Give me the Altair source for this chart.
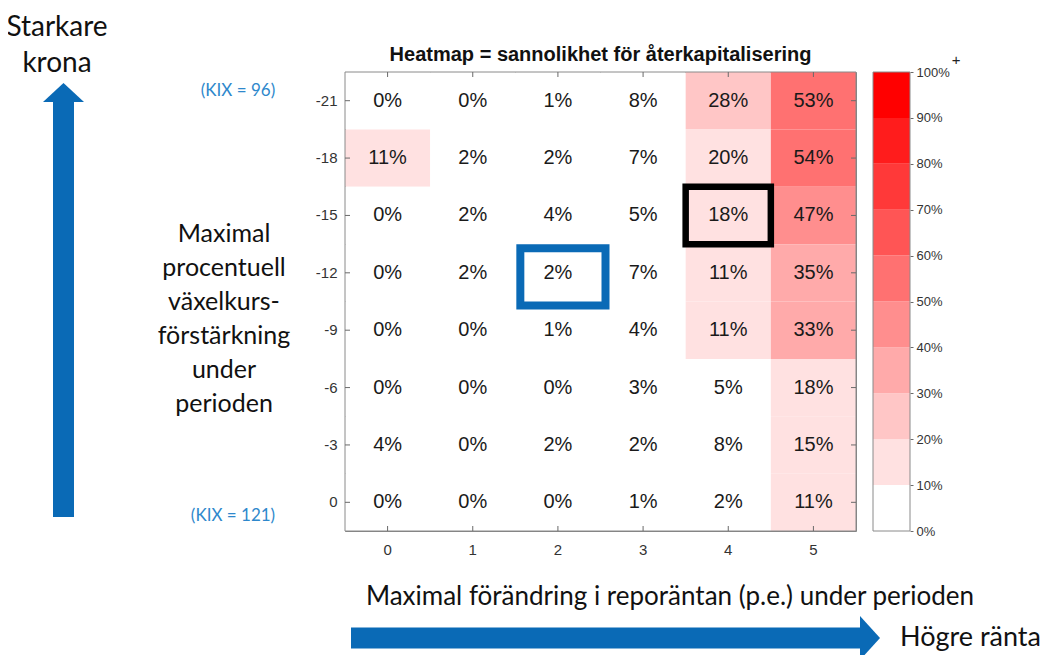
import altair as alt
import pandas as pd

# ---- data ----
cols = [0, 1, 2, 3, 4, 5]                      # max change in repo rate (p.e.)
rows = [-21, -18, -15, -12, -9, -6, -3, 0]     # max % krona appreciation
probs = [
    [0, 0, 1, 8, 28, 53],
    [11, 2, 2, 7, 19.6, 54],
    [0, 2, 4, 5, 18, 47],
    [0, 2, 2, 7, 11, 35],
    [0, 0, 1, 4, 11, 33],
    [0, 0, 0, 3, 5, 18],
    [4, 0, 2, 2, 8, 15],
    [0, 0, 0, 1, 2, 11],
]
bin_lo = [0, 10, 20, 30, 40, 50, 60, 70, 80, 90]
bin_hi = [10, 20, 30, 40, 50, 60, 70, 80, 90, 100]
bin_colors = ["#FFFFFF", "#FFE1E1", "#FFC6C6", "#FFAAAA", "#FF8E8E",
              "#FF7171", "#FF5555", "#FF3939", "#FF1C1C", "#FF0000"]
highlight_black = [(-15, 4)]
highlight_blue = [(-12, 2)]

df = pd.DataFrame([{"row": r, "col": c, "value": probs[i][j]}
                   for i, r in enumerate(rows) for j, c in enumerate(cols)])
cb = pd.DataFrame({"lo": bin_lo, "hi": bin_hi})
one = pd.DataFrame({"k": [0]})

W, H = 511, 459
BLUE = "#0A6AB6"
LBLUE = "#2E88CC"
FONT = "Liberation Sans"
AFONT = "Lato"
TK = "#6a6a6a"

xs = alt.Scale(domain=cols, paddingInner=0, paddingOuter=0)
ys = alt.Scale(domain=rows, paddingInner=0, paddingOuter=0)
cscale = alt.Scale(type="threshold", domain=bin_lo[1:], range=bin_colors)

x_axis = alt.Axis(labelAngle=0, ticks=False, tickSize=0, domain=False, grid=False,
                  labelPadding=11, labelFont=FONT, labelFontSize=15,
                  labelColor="#333333")
y_axis = alt.Axis(ticks=False, tickSize=0, domain=False, grid=False, labelPadding=8,
                  labelFont=FONT, labelFontSize=15, labelColor="#333333")


def X():
    return alt.X("col:O", scale=xs, title=None, axis=x_axis)


def Y():
    return alt.Y("row:O", scale=ys, title=None, axis=y_axis)


heat = alt.Chart(df).mark_rect().encode(
    x=X(), y=Y(),
    color=alt.Color("value:Q", scale=cscale, legend=None),
)

labels = alt.Chart(df).transform_calculate(
    lab="format(round(datum.value), 'd') + '%'"
).mark_text(font=FONT, fontSize=20, color="#1a1a1a").encode(
    x=X(), y=Y(), text="lab:N",
)

frame = alt.Chart(one).mark_rect(fillOpacity=0, stroke="#8a8a8a", strokeWidth=1).encode(
    x=alt.value(0), x2=alt.value(W), y=alt.value(0), y2=alt.value(H))

blk = pd.DataFrame([{"row": r, "col": c} for r, c in highlight_black])
blu = pd.DataFrame([{"row": r, "col": c} for r, c in highlight_blue])
box_black = alt.Chart(blk).mark_rect(fillOpacity=0, stroke="black", strokeWidth=6.5).encode(
    x=X(), y=Y())
box_blue = alt.Chart(blu).mark_rect(fillOpacity=0, stroke=BLUE, strokeWidth=8,
                                    xOffset=5, x2Offset=3, yOffset=4, y2Offset=2).encode(
    x=X(), y=Y())

cdf = pd.DataFrame({"col": cols})
rdf = pd.DataFrame({"row": rows})
tick_b = alt.Chart(cdf).mark_rule(color=TK).encode(
    x=X(), y=alt.value(H), y2=alt.value(H - 5))
tick_t = alt.Chart(cdf).mark_rule(color=TK).encode(
    x=X(), y=alt.value(0), y2=alt.value(5))
tick_l = alt.Chart(rdf).mark_rule(color=TK).encode(
    y=Y(), x=alt.value(0), x2=alt.value(5))
tick_r = alt.Chart(rdf).mark_rule(color=TK).encode(
    y=Y(), x=alt.value(W), x2=alt.value(W - 5))

title = alt.Chart(one).mark_text(font=FONT, fontSize=20, fontWeight="bold",
                                 color="#111").encode(
    x=alt.value(W / 2), y=alt.value(-17),
    text=alt.value("Heatmap = sannolikhet för återkapitalisering"))

inner = alt.layer(heat, labels, frame, box_black, box_blue,
                  tick_b, tick_t, tick_l, tick_r, title)

# colour bar
CB0, CB1 = 528, 565
cbar = alt.Chart(cb).mark_rect().encode(
    x=alt.value(CB0), x2=alt.value(CB1),
    y=alt.Y("lo:Q", scale=alt.Scale(domain=[0, 100], nice=False, zero=True), title=None,
            axis=alt.Axis(orient="right", offset=CB1 - W, values=bin_lo + [100],
                          labelExpr="datum.value + '%'", domain=False, tickSize=3,
                          tickColor=TK, labelPadding=3, labelFont=FONT, labelFontSize=13,
                          labelColor="#333333", grid=False)),
    y2="hi:Q",
    color=alt.Color("lo:Q", scale=cscale, legend=None),
)
cbar_box = alt.Chart(one).mark_rect(fillOpacity=0, stroke="#8a8a8a", strokeWidth=1).encode(
    x=alt.value(CB0), x2=alt.value(CB1), y=alt.value(0), y2=alt.value(H))
plus = alt.Chart(one).mark_text(font=FONT, fontSize=15, color="#222").encode(
    x=alt.value(611), y=alt.value(-12), text=alt.value("+"))


# annotations
def txt(s, x, y, size, color="#111", align="center", font=AFONT):
    return alt.Chart(one).mark_text(font=font, fontSize=size, color=color, align=align,
                                    baseline="middle").encode(
        x=alt.value(x), y=alt.value(y), text=alt.value(s))


ylab_lines = ["Maximal", "procentuell", "växelkurs-", "förstärkning", "under", "perioden"]
ann = [
    txt("Starkare", -288, -44, 28),
    txt("krona", -288, -8, 28),
    txt("(KIX = 96)", -107, 19, 17, LBLUE),
    txt("(KIX = 121)", -112, 444, 17, LBLUE),
    txt("Maximal förändring i reporäntan (p.e.) under perioden", 325, 525, 26),
    txt("Högre ränta", 555, 566, 27, align="left"),
]
for i, s in enumerate(ylab_lines):
    ann.append(txt(s, -121, 162 + 34 * i, 25))

up_shaft = alt.Chart(one).mark_rule(color=BLUE, strokeWidth=21, strokeCap="butt").encode(
    x=alt.value(-281.5), y=alt.value(29), y2=alt.value(445))
up_head = alt.Chart(one).mark_point(filled=True, opacity=1, color=BLUE, strokeWidth=0,
                                    shape="M-1,0L0,-0.93L1,0Z", size=1681).encode(
    x=alt.value(-281.5), y=alt.value(30))
rt_shaft = alt.Chart(one).mark_rule(color=BLUE, strokeWidth=21, strokeCap="butt").encode(
    x=alt.value(6), x2=alt.value(516), y=alt.value(566))
rt_head = alt.Chart(one).mark_point(filled=True, opacity=1, color=BLUE, strokeWidth=0,
                                    shape="M0,-1L0.91,0L0,1Z", size=1936).encode(
    x=alt.value(515), y=alt.value(566))

chart = alt.layer(
    inner, cbar, cbar_box, plus, *ann, up_shaft, up_head, rt_shaft, rt_head,
).resolve_scale(y="independent").properties(
    width=W, height=H,
    autosize=alt.AutoSizeParams(type="none"),
    padding={"left": 337, "top": 64, "right": 190, "bottom": 125},
).configure_view(stroke="#808080", strokeWidth=1).configure_axisBand(
    labelFont=FONT, labelFontSize=15, labelColor="#333333"
)

chart.save("out.html", embed_options={"renderer": "svg", "actions": False})
